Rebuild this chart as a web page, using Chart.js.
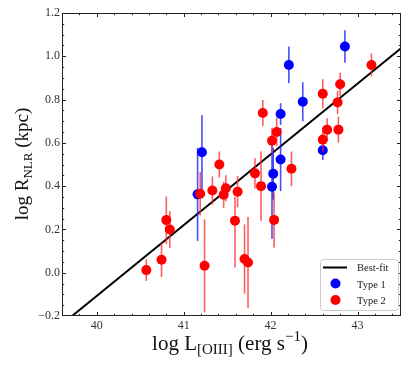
<!DOCTYPE html>
<html>
<head>
<meta charset="utf-8">
<script src="https://cdn.jsdelivr.net/npm/chart.js@4.4.1/dist/chart.umd.min.js"></script>
<style>
  html, body { margin: 0; padding: 0; background: #fff; }
  canvas { display: block; }
</style>
</head>
<body>
<canvas id="c" width="407" height="366"></canvas>
<script>
// Type 1 (blue)
const logL1 = [41.16, 41.21, 42.016, 42.03, 42.115, 42.115, 42.21, 42.37, 42.60, 42.855];
const logR1 = [0.362, 0.557, 0.397, 0.457, 0.523, 0.733, 0.96, 0.79, 0.566, 1.045];
const err1Lo = [0.215, 0.17, 0.24, 0.12, 0.146, 0.05, 0.085, 0.09, 0.045, 0.075];
const err1Hi = [0.215, 0.17, 0.24, 0.12, 0.146, 0.05, 0.085, 0.09, 0.045, 0.075];

// Type 2 (red)
const logL2 = [40.57, 40.745, 40.80, 40.84, 41.19, 41.24, 41.33, 41.41, 41.46, 41.485,
               41.59, 41.62, 41.70, 41.74, 41.82, 41.89, 41.91, 42.016, 42.04, 42.07,
               42.24, 42.60, 42.60, 42.65, 42.77, 42.78, 42.80, 43.16];
const logR2 = [0.012, 0.06, 0.243, 0.20, 0.365, 0.032, 0.38, 0.50, 0.36, 0.39,
               0.24, 0.374, 0.063, 0.047, 0.459, 0.40, 0.738, 0.61, 0.244, 0.65,
               0.48, 0.615, 0.827, 0.661, 0.787, 0.661, 0.871, 0.96];
const err2Lo = [0.05, 0.08, 0.11, 0.085, 0.1, 0.215, 0.065, 0.06, 0.06, 0.06,
                0.216, 0.072, 0.16, 0.21, 0.07, 0.16, 0.06, 0.06, 0.127, 0.065,
                0.08, 0.055, 0.067, 0.053, 0.054, 0.06, 0.053, 0.053];
const err2Hi = [0.05, 0.08, 0.11, 0.085, 0.1, 0.215, 0.065, 0.06, 0.06, 0.06,
                0.11, 0.072, 0.16, 0.21, 0.07, 0.16, 0.06, 0.06, 0.127, 0.065,
                0.08, 0.055, 0.067, 0.053, 0.054, 0.06, 0.053, 0.053];

// best-fit line end points
const fitL = [39.716, 43.5];
const fitR = [-0.2, 1.037];

// axes
const xTicks = [40, 41, 42, 43];
const yTicks = [-0.2, 0, 0.2, 0.4, 0.6, 0.8, 1.0, 1.2];
const legendLabels = ['Best-fit', 'Type 1', 'Type 2'];

const SERIF = "'Liberation Serif', 'DejaVu Serif', serif";
const toPts = (xs, ys) => xs.map((x, i) => ({ x: x, y: ys[i] }));

const errorBars = {
  id: 'errorBars',
  beforeDatasetDraw(chart, args) {
    const ds = chart.data.datasets[args.index];
    if (!ds.errLo) return;
    const xs = chart.scales.x, ys = chart.scales.y, ctx = chart.ctx;
    ctx.save();
    ctx.strokeStyle = ds.errColor;
    ctx.lineWidth = 1.6;
    ds.data.forEach((p, i) => {
      const px = xs.getPixelForValue(p.x);
      ctx.beginPath();
      ctx.moveTo(px, ys.getPixelForValue(p.y - ds.errLo[i]));
      ctx.lineTo(px, ys.getPixelForValue(p.y + ds.errHi[i]));
      ctx.stroke();
    });
    ctx.restore();
  }
};

function richText(ctx, parts, x, y) {
  let w = 0;
  parts.forEach(p => { ctx.font = p.size + 'px ' + SERIF; w += ctx.measureText(p.t).width; });
  let cx = x - w / 2;
  parts.forEach(p => {
    ctx.font = p.size + 'px ' + SERIF;
    ctx.fillText(p.t, cx, y + (p.dy || 0));
    cx += ctx.measureText(p.t).width;
  });
}

const frame = {
  id: 'frame',
  afterDatasetsDraw(chart) {
    const { ctx, chartArea: a, scales } = chart;
    ctx.save();
    ctx.strokeStyle = '#222';
    ctx.lineWidth = 1;
    ctx.strokeRect(a.left + 0.5, a.top + 0.5, a.right - a.left - 1, a.bottom - a.top - 1);
    ctx.beginPath();
    // x ticks, inside, top and bottom
    for (let v = 39.6; v <= 43.5; v += 0.2) {
      const r = Math.round(v * 10) / 10;
      const major = Math.abs(r - Math.round(r)) < 1e-6;
      const len = major ? 4 : 2.2;
      const px = Math.round(scales.x.getPixelForValue(r)) + 0.5;
      if (px <= a.left + 1 || px >= a.right - 1) continue;
      ctx.moveTo(px, a.bottom); ctx.lineTo(px, a.bottom - len);
      ctx.moveTo(px, a.top); ctx.lineTo(px, a.top + len);
    }
    // y ticks, inside, left and right
    for (let k = -4; k <= 24; k++) {
      const v = k * 0.05;
      const major = k % 4 === 0;
      const len = major ? 4 : 2.2;
      const py = Math.round(scales.y.getPixelForValue(v)) + 0.5;
      if (py <= a.top + 1 || py >= a.bottom - 1) continue;
      ctx.moveTo(a.left, py); ctx.lineTo(a.left + len, py);
      ctx.moveTo(a.right, py); ctx.lineTo(a.right - len, py);
    }
    ctx.stroke();
    ctx.restore();
  },
  afterDraw(chart) {
    const { ctx } = chart;
    ctx.save();
    ctx.fillStyle = '#111';
    ctx.textBaseline = 'alphabetic';
    ctx.textAlign = 'left';
    // x title
    richText(ctx, [
      { t: 'log L', size: 21 },
      { t: '[OIII]', size: 15, dy: 4 },
      { t: ' (erg s', size: 21 },
      { t: '\u22121', size: 15, dy: -9 },
      { t: ')', size: 21 }
    ], 230, 350);
    // y title
    ctx.save();
    ctx.translate(28, 164);
    ctx.rotate(-Math.PI / 2);
    richText(ctx, [
      { t: 'log R', size: 19 },
      { t: 'NLR', size: 13, dy: 4 },
      { t: ' (kpc)', size: 19 }
    ], 0, 0);
    ctx.restore();

    // legend
    const bx = 320, by = 259, bw = 78, bh = 51;
    ctx.fillStyle = 'rgba(255,255,255,0.85)';
    ctx.strokeStyle = '#cccccc';
    ctx.lineWidth = 1;
    ctx.beginPath();
    ctx.roundRect(bx + 0.5, by + 0.5, bw, bh, 3);
    ctx.fill();
    ctx.stroke();
    ctx.strokeStyle = '#000';
    ctx.lineWidth = 2;
    ctx.beginPath();
    ctx.moveTo(323, 267.5); ctx.lineTo(347, 267.5);
    ctx.stroke();
    ctx.fillStyle = '#0000ff';
    ctx.beginPath(); ctx.arc(335.5, 283.5, 5, 0, Math.PI * 2); ctx.fill();
    ctx.fillStyle = '#ff0000';
    ctx.beginPath(); ctx.arc(335.5, 300, 5, 0, Math.PI * 2); ctx.fill();
    ctx.fillStyle = '#222';
    ctx.font = '10.5px ' + SERIF;
    ctx.fillText(legendLabels[0], 357, 271);
    ctx.fillText(legendLabels[1], 357, 287.5);
    ctx.fillText(legendLabels[2], 357, 304);
    ctx.restore();
  }
};

new Chart(document.getElementById('c'), {
  type: 'scatter',
  data: {
    datasets: [
      {
        label: legendLabels[0],
        type: 'line',
        data: toPts(fitL, fitR),
        borderColor: '#000',
        borderWidth: 2,
        pointRadius: 0,
        fill: false,
        order: 3
      },
      {
        label: legendLabels[1],
        data: toPts(logL1, logR1),
        errLo: err1Lo,
        errHi: err1Hi,
        errColor: 'rgba(30,30,255,0.8)',
        backgroundColor: '#0000ff',
        borderColor: '#0000ff',
        borderWidth: 0,
        pointRadius: 5,
        order: 2
      },
      {
        label: legendLabels[2],
        data: toPts(logL2, logR2),
        errLo: err2Lo,
        errHi: err2Hi,
        errColor: 'rgba(255,40,40,0.75)',
        backgroundColor: '#ff0000',
        borderColor: '#ff0000',
        borderWidth: 0,
        pointRadius: 5,
        order: 1
      }
    ]
  },
  options: {
    responsive: false,
    animation: false,
    devicePixelRatio: 1,
    layout: { padding: { top: 13, right: 6, left: 0, bottom: 0 } },
    plugins: { legend: { display: false }, tooltip: { enabled: false } },
    scales: {
      x: {
        type: 'linear',
        min: 39.6,
        max: 43.5,
        grid: { display: false, drawTicks: false },
        border: { display: false },
        afterBuildTicks: s => { s.ticks = xTicks.map(v => ({ value: v })); },
        afterFit: s => { s.height = 50; },
        ticks: {
          padding: 3,
          color: '#333',
          font: { family: SERIF, size: 12 },
          callback: v => String(v)
        }
      },
      y: {
        type: 'linear',
        min: -0.2,
        max: 1.2,
        grid: { display: false, drawTicks: false },
        border: { display: false },
        afterBuildTicks: s => { s.ticks = yTicks.map(v => ({ value: v })); },
        afterFit: s => { s.width = 62; },
        ticks: {
          padding: 2,
          color: '#333',
          font: { family: SERIF, size: 12 },
          callback: v => v.toFixed(1).replace('-', '\u2212')
        }
      }
    }
  },
  plugins: [errorBars, frame]
});
</script>
</body>
</html>
